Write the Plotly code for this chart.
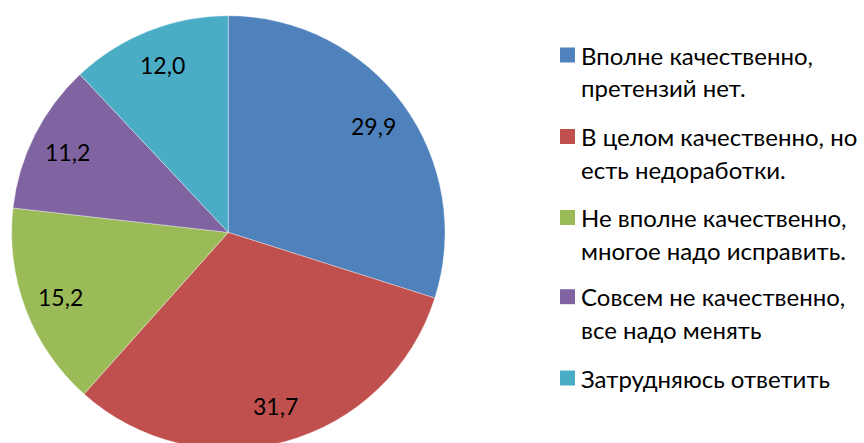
import math
import plotly.graph_objects as go

# ---- data ----
categories = [
    "Вполне качественно, претензий нет.",
    "В целом качественно, но есть недоработки.",
    "Не вполне качественно, многое надо исправить.",
    "Совсем не качественно, все надо менять",
    "Затрудняюсь ответить",
]
legend_lines = [
    ["Вполне качественно,", "претензий нет."],
    ["В целом качественно, но", "есть недоработки."],
    ["Не вполне качественно,", "многое надо исправить."],
    ["Совсем не качественно,", "все надо менять"],
    ["Затрудняюсь ответить"],
]
values = [29.9, 31.7, 15.2, 11.2, 12.0]
colors = ["#4F81BD", "#C0504D", "#9BBB59", "#8064A2", "#4BACC6"]

# ---- layout constants (pixels) ----
W, H = 864, 452
cx, cy, R = 228.3, 232.4, 216.7
label_r = 0.83
FONT = "Lato, 'Open Sans', sans-serif"

def px(x):
    return x / W

def py(y):
    return (H - y) / H

fig = go.Figure(go.Pie(
    labels=categories,
    values=values,
    marker=dict(colors=colors, line=dict(color="rgba(255,255,255,0.6)", width=0.6)),
    sort=False,
    direction="clockwise",
    rotation=0,
    textinfo="none",
    showlegend=False,
    domain=dict(x=[px(cx - R), px(cx + R)], y=[py(cy + R), py(cy - R)]),
))

annotations = []
# value labels placed along each slice's mid angle
total = sum(values)
cum = 0.0
for v in values:
    mid = (cum + v / 2) / total * 2 * math.pi
    cum += v
    lx = cx + label_r * R * math.sin(mid)
    ly = cy - label_r * R * math.cos(mid)
    annotations.append(dict(
        x=px(lx), y=py(ly), xref="paper", yref="paper",
        text=f"{v:.1f}".replace(".", ","), showarrow=False,
        xanchor="center", yanchor="middle",
        font=dict(family=FONT, size=23, color="black"),
    ))

# legend
item_y = [55.0, 136.5, 217.5, 296.7, 378.0]
line_gap = 32.5
sq_x0, sq = 560.0, 15.0
text_x = 579.0
shapes = []
for i, lines in enumerate(legend_lines):
    yc = item_y[i]
    shapes.append(dict(
        type="rect", xref="paper", yref="paper",
        x0=px(sq_x0), x1=px(sq_x0 + sq), y0=py(yc + sq / 2), y1=py(yc - sq / 2),
        fillcolor=colors[i], line=dict(width=0),
    ))
    for j, t in enumerate(lines):
        annotations.append(dict(
            x=px(text_x), y=py(yc + j * line_gap), xref="paper", yref="paper",
            text=t, showarrow=False, xanchor="left", yanchor="middle",
            font=dict(family=FONT, size=24, color="black"),
        ))

fig.update_layout(
    width=W, height=H,
    margin=dict(l=0, r=0, t=0, b=0),
    paper_bgcolor="white", plot_bgcolor="white",
    annotations=annotations, shapes=shapes,
)

fig.write_html(
    "out.html",
    config={"displayModeBar": False},
    post_script="document.body.style.margin='0';document.body.style.overflow='hidden';",
)
